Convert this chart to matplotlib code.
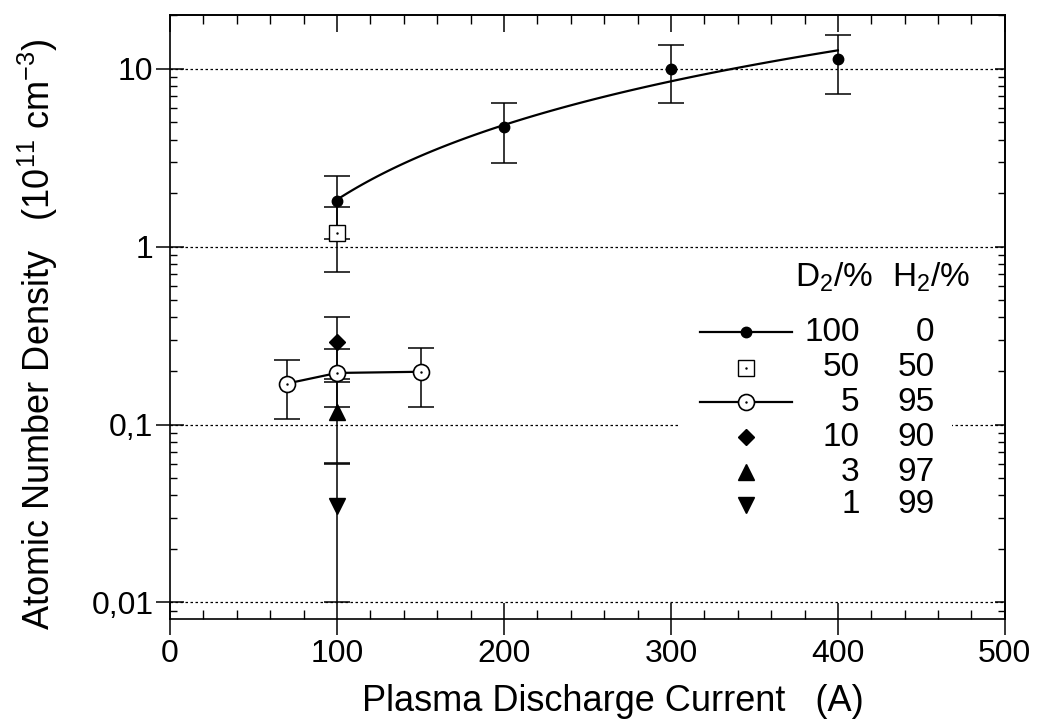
import numpy as np
import matplotlib
matplotlib.use('Agg')
import matplotlib.pyplot as plt
from matplotlib.patches import Rectangle
from matplotlib.ticker import LogLocator, MultipleLocator, FixedLocator, FixedFormatter, NullFormatter

plt.rcParams['font.family'] = ['Liberation Sans', 'DejaVu Sans']
plt.rcParams['axes.linewidth'] = 1.2

# ------------- DATA ------------- #
# D2 100 % / H2 0 %
x_d100 = [100, 200, 300, 400]
y_d100 = [1.8, 4.7, 10.0, 11.3]
e_d100 = [0.7, 1.75, 3.6, 4.1]

# D2 50 % / H2 50 %
x_d50 = [100]
y_d50 = [1.2]
e_d50 = [0.48]

# D2 5 % / H2 95 %
x_d5 = [70, 100, 150]
y_d5 = [0.17, 0.195, 0.198]
e_d5 = [0.062, 0.07, 0.073]

# D2 10 % / H2 90 %
x_d10 = [100]
y_d10 = [0.29]
e_d10 = [0.11]

# D2 3 % / H2 97 %
x_d3 = [100]
y_d3 = [0.117]
e_d3 = [0.056]

# D2 1 % / H2 99 %
x_d1 = [100]
y_d1 = [0.035]
e_d1 = [0.025]

legend_d2 = ['100', '50', '5', '10', '3', '1']
legend_h2 = ['0', '50', '95', '90', '97', '99']

y_ticks = [0.01, 0.1, 1, 10]
y_ticklabels = ['0,01', '0,1', '1', '10']

# ------------- FIGURE ------------- #
fig = plt.figure(figsize=(10.37, 7.22), dpi=100)
ax = fig.add_axes([0.164, 0.143, 0.805, 0.836])

FS = 23      # tick labels
FS_LEG = 24  # legend numbers
FS_LAB = 26  # axis titles
eb = dict(fmt='none', ecolor='black', elinewidth=1.1, capsize=9.5, capthick=1.1, zorder=3)

# power-law fit through the 100 % points (straight line in log-log)
b, a = np.polyfit(np.log(x_d100), np.log(y_d100), 1)
x_fit = np.linspace(min(x_d100), max(x_d100), 100)
ax.plot(x_fit, np.exp(a) * x_fit ** b, color='black', lw=1.6, zorder=3)

ax.errorbar(x_d100, y_d100, yerr=e_d100, **eb)
ax.plot(x_d100, y_d100, 'o', color='black', ms=7.5, zorder=5)

ax.errorbar(x_d50, y_d50, yerr=e_d50, **eb)
ax.plot(x_d50, y_d50, 's', mfc='white', mec='black', mew=1.0, ms=11, zorder=5)
ax.plot(x_d50, y_d50, '.', color='black', ms=1.5, zorder=6)

ax.errorbar(x_d5, y_d5, yerr=e_d5, **eb)
ax.plot(x_d5, y_d5, '-', color='black', lw=1.6, zorder=4)
ax.plot(x_d5, y_d5, 'o', mfc='white', mec='black', mew=1.2, ms=11.5, zorder=5)
ax.plot(x_d5, y_d5, '.', color='black', ms=1.5, zorder=6)

ax.errorbar(x_d10, y_d10, yerr=e_d10, **eb)
ax.plot(x_d10, y_d10, 'D', color='black', ms=8, zorder=5)

ax.errorbar(x_d3, y_d3, yerr=e_d3, **eb)
ax.plot(x_d3, y_d3, '^', color='black', ms=11, zorder=5)

ax.errorbar(x_d1, y_d1, yerr=e_d1, **eb)
ax.plot(x_d1, y_d1, 'v', color='black', ms=11, zorder=5)

# ------------- AXES ------------- #
ax.set_yscale('log')
ax.set_xlim(0, 500)
ax.set_ylim(0.0081, 20)

ax.yaxis.set_major_locator(FixedLocator(y_ticks))
ax.yaxis.set_major_formatter(FixedFormatter(y_ticklabels))
ax.yaxis.set_minor_locator(LogLocator(base=10, subs=np.arange(2, 10)))
ax.yaxis.set_minor_formatter(NullFormatter())
ax.xaxis.set_major_locator(MultipleLocator(100))
ax.xaxis.set_minor_locator(MultipleLocator(20))

for yv in y_ticks:
    ax.axhline(yv, color='black', lw=0.9, ls=(0, (2, 2)), zorder=1)

ax.tick_params(axis='x', which='major', direction='inout', length=23, width=1.1,
               labelsize=FS, pad=3, top=False)
ax.tick_params(axis='x', which='minor', direction='in', length=6.5, width=1.0, top=False)
ax.tick_params(axis='y', which='major', direction='inout', length=20, width=1.1,
               labelsize=FS, pad=2, right=False)
ax.tick_params(axis='y', which='minor', direction='in', length=5, width=1.0, right=False)

# top and right ticks, inward only
top = ax.secondary_xaxis('top')
top.xaxis.set_major_locator(MultipleLocator(100))
top.xaxis.set_minor_locator(MultipleLocator(20))
top.tick_params(which='major', direction='in', length=12, width=1.1, labeltop=False)
top.tick_params(which='minor', direction='in', length=6.5, width=1.0)

right = ax.secondary_yaxis('right')
right.yaxis.set_major_locator(FixedLocator(y_ticks))
right.yaxis.set_minor_locator(LogLocator(base=10, subs=np.arange(2, 10)))
right.tick_params(which='major', direction='in', length=7, width=1.1, labelright=False)
right.tick_params(which='minor', direction='in', length=5, width=1.0, labelright=False)

ax.set_xlabel('Plasma Discharge Current   (A)', fontsize=FS_LAB, va='baseline')
ax.xaxis.set_label_coords(0.53, -0.153)
ax.set_ylabel(r'Atomic Number Density   (10$\mathregular{^{11}}$ cm$\mathregular{^{-3}}$)',
              fontsize=FS_LAB, va='baseline')
ax.yaxis.set_label_coords(-0.144, 0.472)

# ------------- LEGEND (drawn by hand) ------------- #
ax.add_patch(Rectangle((0.611, 0.16), 0.326, 0.43, transform=ax.transAxes,
                       facecolor='white', edgecolor='none', zorder=2))

ax.text(0.842, 0.55, r'D$\mathregular{_2}$/%', transform=ax.transAxes, fontsize=FS_LEG,
        ha='right', va='baseline', zorder=7)
ax.text(0.958, 0.55, r'H$\mathregular{_2}$/%', transform=ax.transAxes, fontsize=FS_LEG,
        ha='right', va='baseline', zorder=7)

row_y = [0.475, 0.416, 0.359, 0.301, 0.243, 0.189]
styles = [
    dict(marker='o', color='black', ms=7.5, line=True),
    dict(marker='s', mfc='white', mec='black', mew=1.0, ms=11, line=False, dot=True),
    dict(marker='o', mfc='white', mec='black', mew=1.2, ms=11.5, line=True, dot=True),
    dict(marker='D', color='black', ms=8, line=False),
    dict(marker='^', color='black', ms=11, line=False),
    dict(marker='v', color='black', ms=11, line=False),
]
for yy, st, d2, h2 in zip(row_y, styles, legend_d2, legend_h2):
    st = dict(st)
    has_line = st.pop('line')
    has_dot = st.pop('dot', False)
    if has_line:
        ax.plot([0.635, 0.745], [yy, yy], '-', color='black', lw=1.6,
                transform=ax.transAxes, clip_on=False, zorder=6)
    ax.plot([0.690], [yy], ls='none', transform=ax.transAxes, clip_on=False, zorder=7, **st)
    if has_dot:
        ax.plot([0.690], [yy], '.', color='black', ms=1.5, transform=ax.transAxes,
                clip_on=False, zorder=8)
    ax.text(0.826, yy, d2, transform=ax.transAxes, fontsize=FS_LEG, ha='right', va='center', zorder=7)
    ax.text(0.916, yy, h2, transform=ax.transAxes, fontsize=FS_LEG, ha='right', va='center', zorder=7)

fig.savefig('out.png', dpi=100)
